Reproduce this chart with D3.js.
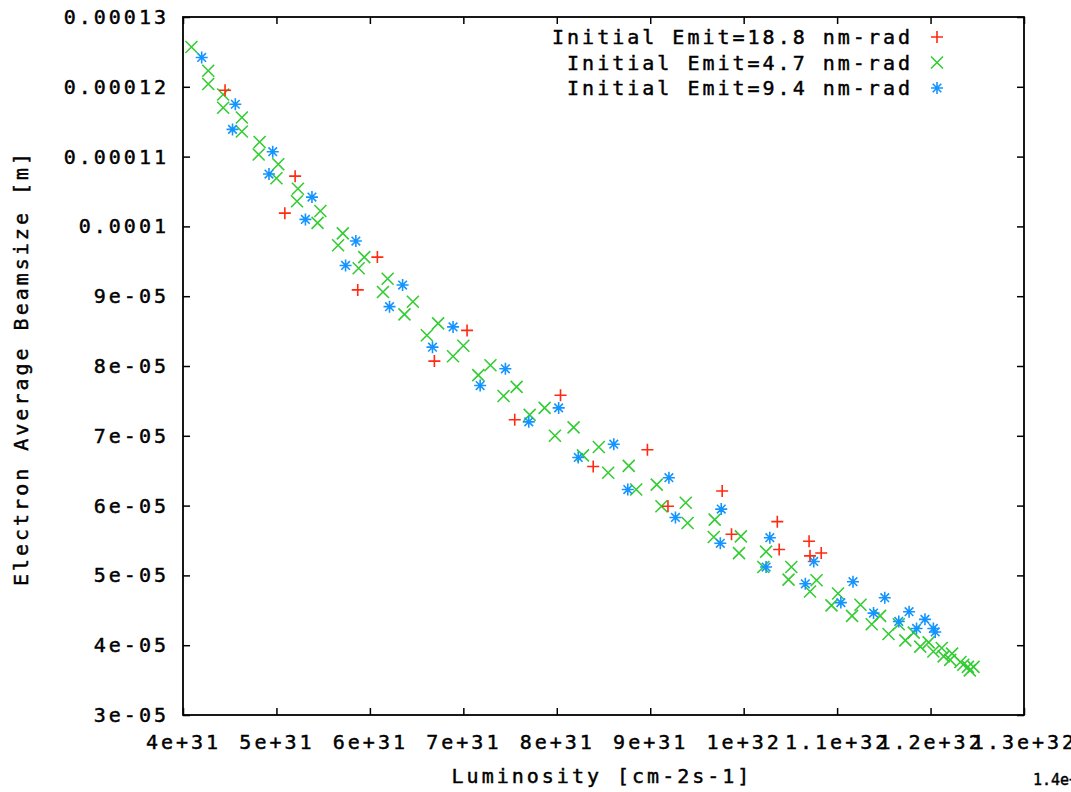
<!DOCTYPE html>
<html>
<head>
<meta charset="utf-8">
<script src="https://cdn.jsdelivr.net/npm/d3@7"></script>
<style>
  body { margin: 0; background: #fff; }
  svg { display: block; }
</style>
</head>
<body>
<svg id="chart"></svg>
<script>
// values: luminosity in units of 1e31 cm-2s-1, beamsize in units of 1e-5 m
const LUM_UNIT = 1e31, BEAM_UNIT = 1e-5;

const emit188Lum  = [4.45, 5.20, 5.09, 6.08, 5.87, 7.04, 6.69, 8.04, 7.55, 8.39, 8.97, 9.19, 9.77, 9.87, 10.36, 10.38, 10.70, 10.71, 10.83];
const emit188Beam = [11.95, 10.72, 10.19, 9.56, 9.09, 8.51, 8.07, 7.58, 7.23, 6.56, 6.80, 5.99, 6.21, 5.59, 5.77, 5.37, 5.49, 5.28, 5.32];

const emit47Lum  = [4.09, 4.27, 4.27, 4.43, 4.43, 4.63, 4.63, 4.82, 4.81, 5.02,
                    5.00, 5.23, 5.22, 5.47, 5.44, 5.71, 5.66, 5.94, 5.88, 6.19,
                    6.14, 6.46, 6.37, 6.73, 6.61, 7.00, 6.89, 7.29, 7.16, 7.57,
                    7.43, 7.87, 7.71, 8.18, 7.98, 8.45, 8.28, 8.55, 8.77, 8.85,
                    9.07, 9.12, 9.38, 9.40, 9.69, 9.68, 9.97, 9.95, 10.24, 10.21,
                    10.51, 10.48, 10.78, 10.71, 11.01, 10.94, 11.25, 11.16, 11.46, 11.37,
                    11.55, 11.66, 11.73, 11.82, 11.89, 11.98, 12.03, 12.12, 12.14, 12.23,
                    12.21, 12.32, 12.35, 12.40, 12.46, 12.42];
const emit47Beam = [12.57, 12.23, 12.04, 11.89, 11.70, 11.56, 11.36, 11.21, 11.03, 10.89,
                    10.69, 10.54, 10.36, 10.22, 10.05, 9.90, 9.73, 9.56, 9.40, 9.25,
                    9.06, 8.92, 8.74, 8.61, 8.44, 8.29, 8.14, 8.01, 7.87, 7.70,
                    7.57, 7.40, 7.30, 7.12, 7.00, 6.84, 6.72, 6.47, 6.57, 6.23,
                    6.30, 5.99, 6.04, 5.75, 5.80, 5.55, 5.56, 5.32, 5.34, 5.12,
                    5.12, 4.94, 4.93, 4.77, 4.74, 4.57, 4.58, 4.42, 4.42, 4.30,
                    4.16, 4.30, 4.07, 4.18, 3.98, 4.04, 3.91, 3.96, 3.84, 3.88,
                    3.79, 3.76, 3.72, 3.69, 3.69, 3.64];

const emit94Lum  = [4.20, 4.56, 4.53, 4.96, 4.92, 5.38, 5.31, 5.85, 5.74, 6.35,
                    6.21, 6.89, 6.67, 7.45, 7.18, 8.02, 7.70, 8.23, 8.61, 8.76,
                    9.20, 9.27, 9.76, 9.75, 10.28, 10.24, 10.75, 10.66, 11.17, 11.04,
                    11.51, 11.39, 11.77, 11.66, 11.94, 11.85, 12.03, 12.05];
const emit94Beam = [12.42, 11.75, 11.39, 11.07, 10.75, 10.42, 10.10, 9.79, 9.44, 9.16,
                    8.85, 8.56, 8.27, 7.96, 7.72, 7.40, 7.20, 6.69, 6.88, 6.23,
                    6.40, 5.83, 5.95, 5.46, 5.54, 5.12, 5.20, 4.88, 4.91, 4.61,
                    4.68, 4.46, 4.48, 4.34, 4.37, 4.24, 4.24, 4.19];

const xTicks = [4e31, 5e31, 6e31, 7e31, 8e31, 9e31, 1e32, 1.1e32, 1.2e32, 1.3e32];
const xTickLabels = ["4e+31", "5e+31", "6e+31", "7e+31", "8e+31", "9e+31", "1e+32", "1.1e+32", "1.2e+32", "1.3e+32"];
const yTicks = [3e-5, 4e-5, 5e-5, 6e-5, 7e-5, 8e-5, 9e-5, 1e-4, 1.1e-4, 1.2e-4, 1.3e-4];
const yTickLabels = ["3e-05", "4e-05", "5e-05", "6e-05", "7e-05", "8e-05", "9e-05", "0.0001", "0.00011", "0.00012", "0.00013"];

const seriesNames = ["Initial Emit=18.8 nm-rad", "Initial Emit=4.7 nm-rad", "Initial Emit=9.4 nm-rad"];

let svgWidth = 1071, svgHeight = 792;
let plot = {left: 183, right: 1024, top: 17, bottom: 715};
let font = "'DejaVu Sans Mono', 'Liberation Mono', monospace";

let x = d3.scaleLinear().domain([4e31, 1.3e32]).range([plot.left, plot.right]);
let y = d3.scaleLinear().domain([3e-5, 1.3e-4]).range([plot.bottom, plot.top]);

let svg = d3.select("#chart")
    .attr("width", svgWidth)
    .attr("height", svgHeight)
    .style("background", "#fff");

// the gnuplot bitmap font is wide and a bit heavy
function textStyle(sel, size) {
    sel.attr("font-family", font)
        .attr("font-size", size || "20px")
        .attr("letter-spacing", size ? null : "3px")
        .attr("fill", "#000")
        .attr("stroke", "#000")
        .attr("stroke-width", 0.45);
}

// axes, ticks pointing inward on all four sides
svg.append("g")
    .attr("transform", "translate(0," + plot.bottom + ")")
    .call(d3.axisBottom(x).tickValues(xTicks).tickSize(-7).tickPadding(20)
        .tickFormat(function(d, i) { return xTickLabels[i]; }))
    .call(function(g) { textStyle(g.selectAll("text")); })
    .call(function(g) { g.select(".domain").remove(); });

svg.append("g")
    .attr("transform", "translate(" + plot.left + ",0)")
    .call(d3.axisLeft(y).tickValues(yTicks).tickSize(-7).tickPadding(14)
        .tickFormat(function(d, i) { return yTickLabels[i]; }))
    .call(function(g) { textStyle(g.selectAll("text")); })
    .call(function(g) { g.select(".domain").remove(); });

svg.append("g")
    .attr("transform", "translate(0," + plot.top + ")")
    .call(d3.axisTop(x).tickValues(xTicks).tickSize(-7).tickFormat(""))
    .call(function(g) { g.select(".domain").remove(); });

svg.append("g")
    .attr("transform", "translate(" + plot.right + ",0)")
    .call(d3.axisRight(y).tickValues(yTicks).tickSize(-7).tickFormat(""))
    .call(function(g) { g.select(".domain").remove(); });

svg.selectAll(".tick line")
    .attr("stroke", "#000")
    .attr("stroke-width", 1.5);

svg.append("rect")
    .attr("x", plot.left)
    .attr("y", plot.top)
    .attr("width", plot.right - plot.left)
    .attr("height", plot.bottom - plot.top)
    .attr("fill", "none")
    .attr("stroke", "#000")
    .attr("stroke-width", 1.8);

// axis titles
svg.append("text")
    .text("Luminosity [cm-2s-1]")
    .attr("x", 602)
    .attr("y", 783)
    .attr("text-anchor", "middle")
    .call(textStyle);

svg.append("text")
    .text("Electron Average Beamsize [m]")
    .attr("transform", "translate(28,368) rotate(-90)")
    .attr("text-anchor", "middle")
    .call(textStyle);

svg.append("text")
    .text("1.4e+32")
    .attr("x", 1033)
    .attr("y", 785)
    .call(textStyle, "15px");

// point markers
function markerPath(kind) {
    let s = 6;
    if (kind === "plus") return "M" + (-s) + ",0H" + s + "M0," + (-s) + "V" + s;
    if (kind === "cross") return "M" + (-s) + "," + (-s) + "L" + s + "," + s + "M" + (-s) + "," + s + "L" + s + "," + (-s);
    let d = 4.3;
    return "M" + (-s) + ",0H" + s + "M0," + (-s) + "V" + s +
           "M" + (-d) + "," + (-d) + "L" + d + "," + d + "M" + (-d) + "," + d + "L" + d + "," + (-d);
}

let series = [
    {name: seriesNames[0], lum: emit188Lum, beam: emit188Beam, color: "#ff2a10", kind: "plus"},
    {name: seriesNames[1], lum: emit47Lum, beam: emit47Beam, color: "#33cc33", kind: "cross"},
    {name: seriesNames[2], lum: emit94Lum, beam: emit94Beam, color: "#1494ff", kind: "star"}
];

// green first, then blue, red on top
[1, 2, 0].forEach(function(k) {
    let s = series[k];
    let pts = s.lum.map(function(v, i) { return {lum: v * LUM_UNIT, beam: s.beam[i] * BEAM_UNIT}; });
    svg.append("g")
        .selectAll("path")
        .data(pts)
        .enter()
        .append("path")
        .attr("transform", function(d) { return "translate(" + x(d.lum) + "," + y(d.beam) + ")"; })
        .attr("d", markerPath(s.kind))
        .attr("fill", "none")
        .attr("stroke", s.color)
        .attr("stroke-width", 1.6);
});

// legend
let legend = svg.append("g")
    .selectAll("g")
    .data(series)
    .enter()
    .append("g")
    .attr("transform", function(d, i) { return "translate(0," + (37 + i * 25.5) + ")"; });

legend.append("text")
    .text(function(d) { return d.name; })
    .attr("x", 913)
    .attr("y", 7)
    .attr("text-anchor", "end")
    .call(textStyle);

legend.append("path")
    .attr("transform", "translate(937,0)")
    .attr("d", function(d) { return markerPath(d.kind); })
    .attr("fill", "none")
    .attr("stroke", function(d) { return d.color; })
    .attr("stroke-width", 1.6);
</script>
</body>
</html>
